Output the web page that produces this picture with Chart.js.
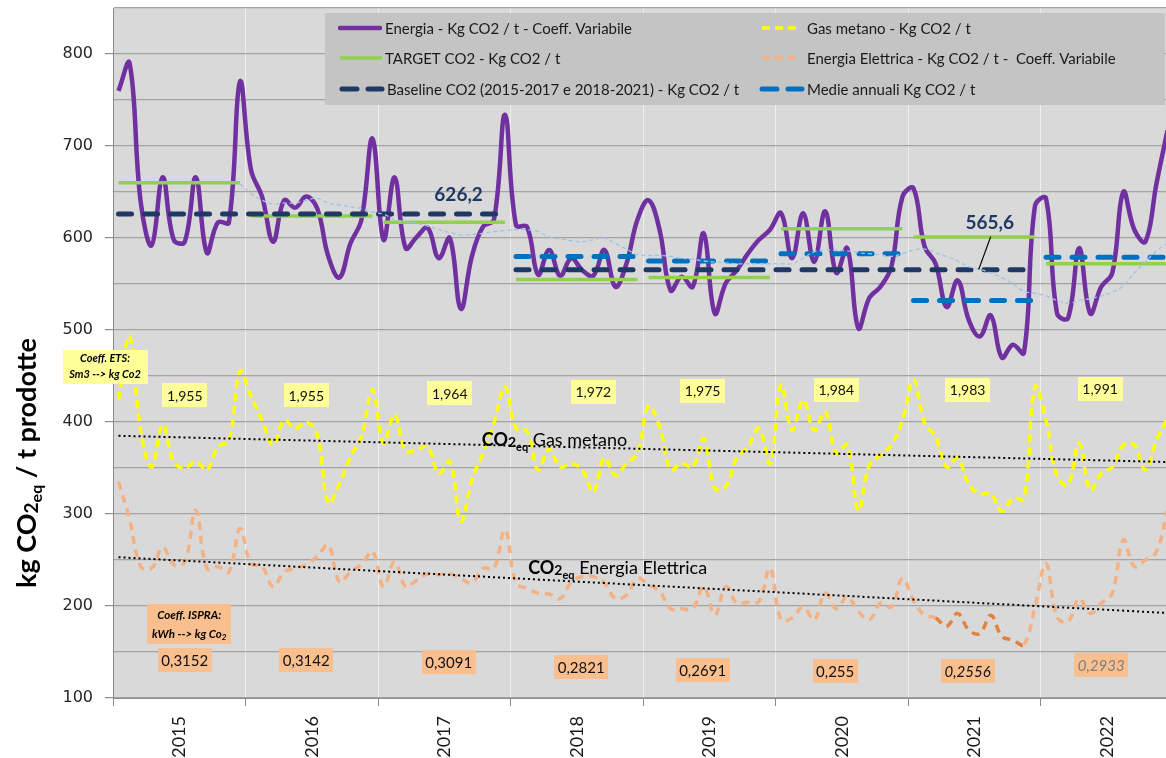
<!DOCTYPE html>
<html>
<head>
<meta charset="utf-8">
<script src="https://cdn.jsdelivr.net/npm/chart.js@4.4.1/dist/chart.umd.min.js"></script>
<style>
  html, body { margin: 0; padding: 0; background: #ffffff; overflow: hidden; }
  #wrap { width: 1180px; height: 758px; }
</style>
</head>
<body>
<div id="wrap"><canvas id="chart" width="1180" height="758"></canvas></div>
<script>
// ---- Data: monthly values Jan 2015 - Dec 2022 (kg CO2eq / t) ----
const years = ['2015', '2016', '2017', '2018', '2019', '2020', '2021', '2022'];

const energia = [
  760, 790, 640, 592, 666, 598, 596, 666, 584, 617, 617, 770,
  674, 645, 596, 641, 633, 645, 632, 580, 557, 594, 620, 708,
  598, 666, 589, 601, 611, 578, 600, 523, 580, 612, 620, 734,
  614, 612, 560, 587, 559, 578, 565, 559, 587, 547, 572, 620,
  641, 609, 543, 558, 547, 605, 518, 551, 565, 583, 598, 609,
  627, 578, 627, 574, 629, 562, 589, 502, 535, 547, 569, 645,
  654, 591, 572, 525, 554, 511, 493, 516, 470, 484, 475, 635,
  643, 518, 513, 589, 518, 547, 562, 650, 609, 596, 659, 717
];

const gasMetano = [
  424, 493, 391, 351, 397, 357, 350, 357, 348, 373, 380, 455,
  428, 402, 375, 402, 393, 400, 386, 312, 333, 362, 384, 435,
  377, 408, 368, 370, 373, 344, 357, 292, 337, 366, 399, 438,
  393, 390, 348, 371, 351, 355, 348, 324, 361, 342, 355, 366,
  417, 395, 348, 355, 351, 382, 328, 330, 361, 373, 393, 355,
  440, 391, 424, 391, 411, 366, 375, 304, 353, 364, 375, 402,
  446, 399, 384, 351, 361, 332, 322, 322, 303, 317, 317, 438,
  402, 341, 332, 377, 326, 344, 351, 375, 375, 348, 380, 404
];

const energiaElettrica = [
  335, 294, 243, 241, 264, 245, 248, 304, 241, 243, 237, 284,
  246, 243, 221, 237, 241, 245, 254, 266, 226, 237, 245, 259,
  221, 248, 221, 228, 235, 234, 235, 230, 225, 241, 241, 283,
  225, 219, 214, 213, 208, 226, 232, 232, 225, 208, 212, 230,
  223, 216, 197, 197, 197, 221, 190, 221, 203, 204, 205, 241,
  185, 187, 199, 185, 214, 197, 210, 194, 185, 203, 199, 230,
  206, 190, 187, 178, 192, 174, 170, 190, 167, 163, 158, 199,
  246, 188, 183, 208, 192, 203, 214, 272, 243, 250, 259, 304
];

// 12-month moving average of "Energia", from Dec 2015 onwards
const mediaMobileStart = 11;
const mediaMobile = [
  659, 648, 641, 637, 638, 638, 641, 643, 638, 636, 634, 632, 628,
  626, 620, 618, 616, 613, 609, 606, 603, 604, 605, 607, 608,
  609, 609, 607, 601, 599, 597, 596, 598, 600, 594, 588, 582,
  581, 581, 580, 578, 577, 575, 574, 573, 572, 572, 572, 572,
  572, 572, 578, 585, 587, 587, 586, 584, 583, 582, 580, 583,
  587, 588, 584, 580, 575, 569, 566, 562, 557, 550, 542, 540,
  537, 532, 529, 532, 534, 537, 541, 548, 562, 574, 586, 594
];

const targetCO2 = [660, 624, 617, 555, 557, 610, 601, 572];
const baselineValues = [626.2, 565.6];
const baselineFrom = ['2015', '2018'];
const baselineTo = ['2017', '2021'];
const medieAnnuali = [null, null, null, 580, 575, 583, 532, 579];

// linear trend lines (start, end)
const trendGas = [385, 356.5];
const trendElettrica = [253, 192.4];

// emission coefficients per year
const coeffETS = ['1,955', '1,955', '1,964', '1,972', '1,975', '1,984', '1,983', '1,991'];
const coeffISPRA = ['0,3152', '0,3142', '0,3091', '0,2821', '0,2691', '0,255', '0,2556', '0,2933'];

// ---- helpers ----
const FONT = 'Lato, "Open Sans", sans-serif';
const monthly = arr => arr.map((v, i) => ({ x: i + 0.5, y: v }));
const yearSegments = (vals) => {
  const out = [];
  vals.forEach((v, k) => {
    if (v === null) return;
    out.push({ x: 12 * k + 0.5, y: v }, { x: 12 * k + 11.5, y: v }, { x: 12 * k + 12, y: null });
  });
  return out;
};
const baselinePts = [];
baselineValues.forEach((v, j) => {
  const a = years.indexOf(baselineFrom[j]), b = years.indexOf(baselineTo[j]);
  baselinePts.push({ x: 12 * a + 0.5, y: v }, { x: 12 * b + 11.5, y: v }, { x: 12 * b + 12, y: null });
});
const lastMonth = energia.length - 0.5;

const COLORS = {
  purple: '#7030a0', yellow: '#ffff00', green: '#92d050', orange: '#f4b183',
  orangeDark: '#e2823c', navy: '#1f3864', blue: '#0070c0', lightBlue: '#9dc3e6',
  plot: '#d9d9d9', legend: '#c4c4c4', boxYellow: '#ffff99', boxOrange: '#f9bf8f'
};

// draws a run of text pieces with their own fonts, left to right
function richText(ctx, parts, x, y, align) {
  ctx.save();
  ctx.textAlign = 'left';
  let total = 0;
  parts.forEach(p => { ctx.font = p.font; p.w = ctx.measureText(p.t).width; total += p.w; });
  let cx = align === 'center' ? x - total / 2 : x;
  parts.forEach(p => {
    ctx.font = p.font;
    ctx.fillStyle = p.color || '#000';
    ctx.fillText(p.t, cx, y + (p.dy || 0));
    cx += p.w;
  });
  ctx.restore();
}

function box(ctx, cx, cy, w, h, fill) {
  ctx.fillStyle = fill;
  ctx.fillRect(Math.round(cx - w / 2), Math.round(cy - h / 2), w, h);
}

// ---- plugins ----
const plotBackground = {
  id: 'plotBackground',
  beforeDraw(chart) {
    const { ctx, chartArea: a } = chart;
    ctx.save();
    ctx.fillStyle = COLORS.plot;
    ctx.fillRect(a.left, a.top, a.right - a.left, a.bottom - a.top);
    ctx.restore();
  }
};

const annotations = {
  id: 'annotations',
  afterDatasetsDraw(chart) {
    const { ctx } = chart;
    const xs = chart.scales.x, ys = chart.scales.y;
    const X = v => xs.getPixelForValue(v), Y = v => ys.getPixelForValue(v);
    ctx.save();

    // baseline values
    ctx.textAlign = 'center';
    ctx.textBaseline = 'middle';
    ctx.fillStyle = COLORS.navy;
    ctx.font = 'bold 19px ' + FONT;
    const fmt = v => v.toFixed(1).replace('.', ',');
    ctx.fillText(fmt(baselineValues[0]), X(31.3), Y(baselineValues[0]) - 19);
    const lx = X(79.4), ly = Y(baselineValues[1]) - 47;
    ctx.fillText(fmt(baselineValues[1]), lx, ly);
    ctx.strokeStyle = '#000';
    ctx.lineWidth = 1.2;
    ctx.beginPath();
    ctx.moveTo(lx + 1, ly + 14);
    ctx.lineTo(X(78.4), Y(baselineValues[1]));
    ctx.stroke();

    // gas coefficients (ETS)
    const etsPos = [[6.5, 429], [17.5, 429], [30.5, 431], [43.5, 433], [53.4, 434], [65.5, 435], [77.4, 435], [89.4, 436]];
    ctx.font = '14px ' + FONT;
    coeffETS.forEach((t, k) => {
      const cx = X(etsPos[k][0]), cy = Y(etsPos[k][1]);
      box(ctx, cx, cy, 45, 24, COLORS.boxYellow);
      ctx.fillStyle = '#111';
      ctx.fillText(t, cx, cy + 1);
    });

    // electricity coefficients (ISPRA)
    const ispraPos = [[6.5, 141], [17.5, 141], [30.4, 139], [42.4, 134], [53.4, 130.5], [65.4, 129], [77.4, 129], [89.5, 136]];
    coeffISPRA.forEach((t, k) => {
      const cx = X(ispraPos[k][0]), cy = Y(ispraPos[k][1]);
      box(ctx, cx, cy, t.length > 5 ? 54 : 45, 24, COLORS.boxOrange);
      const italic = k >= 6;
      ctx.font = (italic ? 'italic ' : '') + '15px ' + FONT;
      ctx.fillStyle = k === 7 ? '#7f7f7f' : '#111';
      ctx.fillText(t, cx, cy + 1);
    });

    // coefficient captions
    const etsX = X(0) - 8, etsY = Y(460);
    box(ctx, etsX, etsY, 85, 34, COLORS.boxYellow);
    ctx.fillStyle = '#000';
    ctx.font = 'bold italic 11px ' + FONT;
    ctx.fillText('Coeff. ETS:', etsX, etsY - 8);
    ctx.fillText('Sm3 --> kg Co2', etsX, etsY + 8);

    const ipX = X(6.9), ipY = Y(180.4);
    box(ctx, ipX, ipY, 84, 40, COLORS.boxOrange);
    ctx.fillStyle = '#000';
    ctx.font = 'bold italic 11.5px ' + FONT;
    ctx.fillText('Coeff. ISPRA:', ipX, ipY - 9);
    ctx.textBaseline = 'alphabetic';
    richText(ctx, [
      { t: 'kWh --> kg Co', font: 'bold italic 11.5px ' + FONT },
      { t: '2', font: 'bold italic 8px ' + FONT, dy: 2 }
    ], ipX, ipY + 14, 'center');

    // series captions
    const sub = (label, x, y) => richText(ctx, [
      { t: 'CO', font: 'bold 18px ' + FONT },
      { t: '2', font: 'bold 14px ' + FONT, dy: 1 },
      { t: 'eq', font: 'bold 11px ' + FONT, dy: 5 },
      { t: ' ' + label, font: '18px ' + FONT }
    ], x, y, 'left');
    sub('Gas metano', X(33.4), Y(374));
    sub('Energia Elettrica', X(37.6), Y(235));
    ctx.restore();
  }
};

const legendAndTitle = {
  id: 'legendAndTitle',
  afterDraw(chart) {
    const { ctx } = chart;
    ctx.save();
    // legend panel
    ctx.fillStyle = COLORS.legend;
    ctx.fillRect(325, 13, 840, 92);
    const rows = [28, 58, 89];
    const items = [
      { x: 340, y: rows[0], color: COLORS.purple, w: 4.5, dash: [], cap: 'round', len: 40, text: 'Energia - Kg CO2 / t - Coeff. Variabile' },
      { x: 340, y: rows[1], color: COLORS.green, w: 3.5, dash: [], cap: 'butt', len: 42, text: 'TARGET CO2 - Kg CO2 / t' },
      { x: 342, y: rows[2], color: COLORS.navy, w: 5, dash: [15, 11], cap: 'round', len: 40, text: 'Baseline CO2 (2015-2017 e 2018-2021) - Kg CO2 / t' },
      { x: 762, y: rows[0], color: COLORS.yellow, w: 3.5, dash: [8, 5], cap: 'butt', len: 38, text: 'Gas metano - Kg CO2 / t' },
      { x: 762, y: rows[1], color: COLORS.orange, w: 3.5, dash: [8, 5], cap: 'butt', len: 38, text: 'Energia Elettrica - Kg CO2 / t -  Coeff. Variabile' },
      { x: 762, y: rows[2], color: COLORS.blue, w: 5, dash: [15, 11], cap: 'round', len: 40, text: 'Medie annuali Kg CO2 / t' }
    ];
    ctx.textBaseline = 'middle';
    ctx.textAlign = 'left';
    items.forEach(it => {
      ctx.strokeStyle = it.color;
      ctx.lineWidth = it.w;
      ctx.lineCap = it.cap;
      ctx.setLineDash(it.dash);
      ctx.beginPath();
      ctx.moveTo(it.x, it.y);
      ctx.lineTo(it.x + it.len, it.y);
      ctx.stroke();
      ctx.setLineDash([]);
      ctx.fillStyle = '#1a1a1a';
      ctx.font = '15px ' + FONT;
      ctx.fillText(it.text, it.x + 45, it.y + 1);
    });

    // y axis title, rotated
    ctx.translate(27, 463);
    ctx.rotate(-Math.PI / 2);
    ctx.textBaseline = 'alphabetic';
    richText(ctx, [
      { t: 'kg CO', font: 'bold 27px ' + FONT },
      { t: '2', font: 'bold 19px ' + FONT, dy: 2 },
      { t: 'eq', font: 'bold 16px ' + FONT, dy: 6 },
      { t: ' / t prodotte', font: 'bold 27px ' + FONT }
    ], 0, 9, 'center');
    ctx.restore();
  }
};

// ---- chart ----
const dashedLong = { borderDash: [13, 13], borderCapStyle: 'round', borderWidth: 5 };

new Chart(document.getElementById('chart'), {
  type: 'line',
  data: {
    datasets: [
      {
        label: 'Energia - Kg CO2 / t - Coeff. Variabile',
        data: monthly(energia), borderColor: COLORS.purple, borderWidth: 4.5,
        tension: 0.4, pointRadius: 0, order: 7, borderJoinStyle: 'round'
      },
      {
        label: 'Gas metano - Kg CO2 / t',
        data: monthly(gasMetano), borderColor: COLORS.yellow, borderWidth: 3.5,
        borderDash: [8, 5], tension: 0.4, pointRadius: 0, order: 6
      },
      {
        label: 'TARGET CO2 - Kg CO2 / t',
        data: yearSegments(targetCO2), borderColor: COLORS.green, borderWidth: 3.5,
        tension: 0, pointRadius: 0, spanGaps: false, order: 5
      },
      {
        label: 'Energia Elettrica - Kg CO2 / t -  Coeff. Variabile',
        data: monthly(energiaElettrica), borderColor: COLORS.orange, borderWidth: 3.5,
        borderDash: [8, 6], tension: 0.4, pointRadius: 0, order: 4,
        segment: {
          borderColor: c => (c.p0DataIndex >= 74 && c.p0DataIndex < 82) ? COLORS.orangeDark : undefined
        }
      },
      Object.assign({
        label: 'Baseline CO2 (2015-2017 e 2018-2021) - Kg CO2 / t',
        data: baselinePts, borderColor: COLORS.navy,
        tension: 0, pointRadius: 0, spanGaps: false, order: 3
      }, dashedLong),
      Object.assign({
        label: 'Medie annuali Kg CO2 / t',
        data: yearSegments(medieAnnuali), borderColor: COLORS.blue,
        tension: 0, pointRadius: 0, spanGaps: false, order: 2
      }, dashedLong),
      {
        label: 'Media mobile 12 mesi',
        data: mediaMobile.map((v, i) => ({ x: mediaMobileStart + i + 0.5, y: v })),
        borderColor: COLORS.lightBlue, borderWidth: 1.3, borderDash: [4, 3],
        tension: 0.4, pointRadius: 0, order: 1
      },
      {
        label: 'Tendenza gas metano',
        data: [{ x: 0.5, y: trendGas[0] }, { x: lastMonth, y: trendGas[1] }],
        borderColor: '#000', borderWidth: 2, borderDash: [2, 3], tension: 0, pointRadius: 0, order: 0
      },
      {
        label: 'Tendenza energia elettrica',
        data: [{ x: 0.5, y: trendElettrica[0] }, { x: lastMonth, y: trendElettrica[1] }],
        borderColor: '#000', borderWidth: 2, borderDash: [2, 3], tension: 0, pointRadius: 0, order: 0
      }
    ]
  },
  options: {
    responsive: false,
    animation: false,
    events: [],
    layout: { padding: { top: 8, right: 7, left: 0, bottom: 0 } },
    plugins: { legend: { display: false }, tooltip: { enabled: false } },
    scales: {
      x: {
        type: 'linear', min: 0, max: 96,
        afterBuildTicks(s) {
          const t = [];
          for (let v = 0; v <= 96; v += 6) t.push({ value: v });
          s.ticks = t;
        },
        afterFit(s) { s.height = 60; s.paddingLeft = 0; s.paddingRight = 0; },
        ticks: {
          autoSkip: false, minRotation: 90, maxRotation: 90, padding: 10,
          font: { family: FONT, size: 18 }, color: '#1a1a1a',
          callback: v => (v % 12 === 6 ? years[(v - 6) / 12] : '')
        },
        grid: {
          color: c => (c.tick && c.tick.value % 12 === 0 ? '#efefef' : 'rgba(0,0,0,0)'),
          tickColor: c => (c.tick && c.tick.value % 12 === 0 ? '#8c8c8c' : 'rgba(0,0,0,0)'),
          tickLength: 8, lineWidth: 1
        },
        border: { color: '#8c8c8c', width: 1 }
      },
      y: {
        min: 100, max: 850,
        afterFit(s) { s.width = 113; s.paddingTop = 0; s.paddingBottom = 0; },
        ticks: {
          stepSize: 50, autoSkip: false, padding: 12,
          font: { family: '"DejaVu Sans", sans-serif', size: 16 }, color: '#262626',
          callback: v => (v % 100 === 0 ? String(v) : '')
        },
        grid: {
          color: '#a3a3a3', lineWidth: 1.2, tickLength: 8,
          tickColor: c => (c.tick && c.tick.value % 100 === 0 ? '#8c8c8c' : 'rgba(0,0,0,0)')
        },
        border: { color: '#8c8c8c', width: 1 }
      }
    }
  },
  plugins: [plotBackground, annotations, legendAndTitle]
});
</script>
</body>
</html>
